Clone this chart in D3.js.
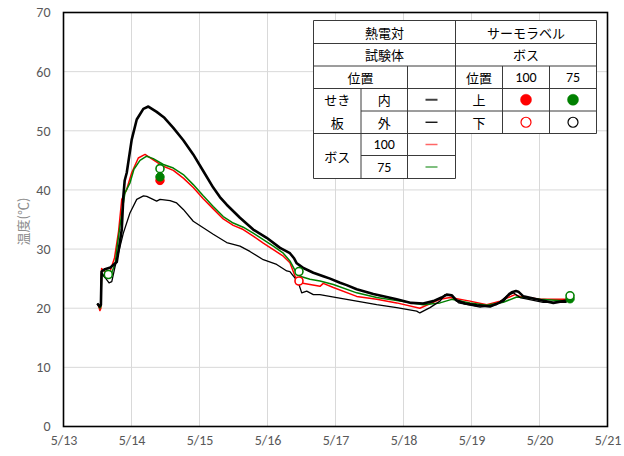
<!DOCTYPE html>
<html>
<head>
<meta charset="utf-8">
<script src="https://cdn.jsdelivr.net/npm/d3@7"></script>
<style>
  html, body { margin: 0; padding: 0; background: #fff; }
  svg { display: block; }
</style>
</head>
<body>
<svg id="chart" width="624" height="456"></svg>
<script>
// Temperature records, time in days of May (decimal), value in °C

// せき板 内 (thermocouple, inner side of the form board)
const formInner = [
  [13.497,20.8],[13.53,20.3],[13.55,20.6],[13.56,26.2],[13.61,26.6],[13.69,26.9],[13.74,27.4],
  [13.783,27.8],[13.82,30.5],[13.857,33.3],[13.88,38.9],[13.90,41.6],[13.93,42.9],[14.003,48.5],
  [14.077,51.9],[14.174,53.7],[14.248,54.1],[14.37,53.2],[14.484,52.2],[14.615,50.5],[14.762,48.4],
  [14.908,46.0],[15.055,43.2],[15.202,40.4],[15.30,38.8],[15.40,37.5],[15.595,35.3],[15.79,33.3],
  [15.988,31.9],[16.184,30.2],[16.33,29.3],[16.393,28.4],[16.43,27.6],[16.478,27.2],[16.527,26.8],
  [16.674,26.0],[16.82,25.4],[16.92,25.0],[17.067,24.3],[17.165,23.9],[17.312,23.2],[17.556,22.4],
  [17.90,21.5],[18.113,20.9],[18.29,20.8],[18.438,21.2],[18.56,21.8],[18.635,22.3],[18.709,22.2],
  [18.782,21.3],[18.907,20.8],[19.077,20.5],[19.273,20.3],[19.405,20.9],[19.468,21.3],[19.554,22.4],
  [19.592,22.7],[19.654,22.9],[19.689,22.8],[19.762,22.0],[20.008,21.4],[20.204,20.9],[20.40,21.3]
];

// せき板 外 (thermocouple, outer side of the form board)
const formOuter = [
  [13.497,20.8],[13.53,20.3],[13.55,20.6],[13.56,26.0],[13.61,25.2],[13.67,24.3],[13.71,24.5],
  [13.76,27.1],[13.88,32.7],[13.977,36.1],[14.077,38.4],[14.176,39.0],[14.224,38.9],[14.37,38.1],
  [14.42,38.4],[14.567,38.2],[14.664,37.8],[14.762,36.7],[14.908,34.7],[15.055,33.6],[15.202,32.5],
  [15.40,31.1],[15.595,30.5],[15.741,29.6],[15.938,28.2],[16.135,27.4],[16.283,26.3],[16.33,26.2],
  [16.405,25.1],[16.454,24.3],[16.503,22.6],[16.577,22.9],[16.674,22.3],[16.77,22.3],[17.018,21.8],
  [17.312,21.2],[17.606,20.6],[17.90,20.1],[18.194,19.5],[18.24,19.2],[18.39,20.1],[18.537,21.2],
  [18.61,22.3],[18.709,22.1],[18.81,20.9],[19.127,20.2],[19.367,20.6],[19.51,22.0],[19.615,22.6],
  [19.714,21.8],[20.053,21.0],[20.40,21.0]
];

// ボス 100 (thermocouple)
const boss100 = [
  [13.51,20.6],[13.535,19.6],[13.55,20.0],[13.56,26.7],[13.61,26.2],[13.69,26.4],[13.75,28.5],
  [13.81,33.0],[13.857,38.4],[13.93,40.1],[14.003,42.9],[14.10,45.4],[14.199,46.0],[14.32,45.1],
  [14.468,44.0],[14.615,43.3],[14.762,42.0],[14.908,40.4],[15.055,38.5],[15.202,36.8],[15.349,35.1],
  [15.496,34.0],[15.643,33.3],[15.79,32.2],[15.938,31.0],[16.085,29.9],[16.232,28.8],[16.33,27.7],
  [16.405,25.4],[16.478,24.3],[16.625,24.0],[16.772,23.7],[16.82,24.2],[16.968,23.5],[17.312,22.0],
  [17.606,21.5],[17.90,20.9],[18.24,20.0],[18.537,21.5],[18.684,21.8],[18.978,21.2],[19.224,20.6],
  [19.42,21.2],[19.64,22.3],[19.713,22.0],[20.008,21.5],[20.40,21.5]
];

// ボス 75 (thermocouple)
const boss75 = [
  [13.51,20.6],[13.535,20.0],[13.55,20.3],[13.56,25.8],[13.61,25.2],[13.69,25.5],[13.76,27.5],
  [13.79,30.5],[13.857,36.1],[13.904,39.5],[13.978,41.2],[14.036,43.5],[14.125,45.0],[14.223,45.7],
  [14.32,45.3],[14.468,44.3],[14.615,43.7],[14.762,42.6],[14.908,40.9],[15.055,39.0],[15.202,37.2],
  [15.349,35.5],[15.496,34.4],[15.643,33.7],[15.79,32.7],[15.938,31.6],[16.085,30.5],[16.232,29.3],
  [16.33,28.0],[16.405,26.4],[16.478,25.4],[16.625,24.9],[16.772,24.6],[16.968,24.0],[17.312,22.6],
  [17.606,21.8],[17.95,21.2],[18.29,20.6],[18.537,20.9],[18.709,21.5],[18.978,20.9],[19.224,20.5],
  [19.468,21.0],[19.665,21.9],[20.008,21.5],[20.40,21.2]
];

// Thermo-label readings (ボス): filled = 上, open = 下
const labelFilled = [
  { t: 14.419, v: 41.6, color: "#ff0000" },
  { t: 14.419, v: 42.2, color: "#008000" },
  { t: 20.449, v: 21.6, color: "#008000" }
];
const labelOpen = [
  { t: 13.659, v: 25.7, color: "#008000" },
  { t: 14.419, v: 43.6, color: "#008000" },
  { t: 16.463, v: 26.2, color: "#008000" },
  { t: 16.463, v: 24.6, color: "#ff0000" },
  { t: 20.449, v: 22.1, color: "#008000" }
];

// Axis ticks
const xTicks = [13, 14, 15, 16, 17, 18, 19, 20, 21];
const yTicks = [0, 10, 20, 30, 40, 50, 60, 70];
const yTitle = "温度(℃)";

const svg = d3.select("#chart");
const plot = { left: 63.5, right: 607.5, top: 12.5, bottom: 426.5 };

const x = d3.scaleLinear().domain([13, 21]).range([plot.left, plot.right]);
const y = d3.scaleLinear().domain([0, 70]).range([plot.bottom, plot.top]);

const numFont = "Carlito, Calibri, 'Liberation Sans', Arial, sans-serif";
const jpFont = "'Noto Sans CJK JP', 'Noto Sans', sans-serif";

// gridlines
const grid = svg.append("g");
grid.selectAll("line.h").data(yTicks).join("line")
  .attr("x1", plot.left).attr("x2", plot.right)
  .attr("y1", d => y(d)).attr("y2", d => y(d))
  .attr("stroke", "#d9d9d9").attr("stroke-width", 1);
grid.selectAll("line.v").data(xTicks).join("line")
  .attr("y1", plot.top).attr("y2", plot.bottom)
  .attr("x1", d => x(d)).attr("x2", d => x(d))
  .attr("stroke", "#d9d9d9").attr("stroke-width", 1);

// axes (labels only)
const yAxis = d3.axisLeft(y).tickValues(yTicks).tickSize(0).tickPadding(0);
const gy = svg.append("g").attr("transform", `translate(${plot.left - 13},0)`).call(yAxis);
gy.select(".domain").remove();
gy.selectAll("text").attr("fill", "#595959").attr("font-size", 14).attr("font-family", numFont);

const xAxis = d3.axisBottom(x).tickValues(xTicks).tickSize(0).tickPadding(0)
  .tickFormat(d => "5/" + d);
const gx = svg.append("g").attr("transform", `translate(0,${plot.bottom + 9})`).call(xAxis);
gx.select(".domain").remove();
gx.selectAll("text").attr("fill", "#595959").attr("font-size", 14).attr("font-family", numFont);

// y title
svg.append("text")
  .attr("transform", `translate(22,${(plot.top + plot.bottom) / 2 + 2}) rotate(-90)`)
  .attr("text-anchor", "middle").attr("dominant-baseline", "central")
  .attr("fill", "#8c8c8c").attr("font-size", 13).attr("font-family", jpFont)
  .text(yTitle);

// series lines
const line = d3.line().x(d => x(d[0])).y(d => y(d[1]));
const series = [
  { data: boss100, color: "#ff0000", width: 1.5 },
  { data: boss75, color: "#008000", width: 1.5 },
  { data: formOuter, color: "#000000", width: 1.3 },
  { data: formInner, color: "#000000", width: 2.6 }
];
svg.append("g").selectAll("path").data(series).join("path")
  .attr("d", d => line(d.data))
  .attr("fill", "none")
  .attr("stroke", d => d.color)
  .attr("stroke-width", d => d.width)
  .attr("stroke-linejoin", "round");

// thermo-label markers
svg.append("g").selectAll("circle").data(labelFilled).join("circle")
  .attr("cx", d => x(d.t)).attr("cy", d => y(d.v)).attr("r", 4.2)
  .attr("fill", d => d.color).attr("stroke", d => d.color).attr("stroke-width", 1);
svg.append("g").selectAll("circle").data(labelOpen).join("circle")
  .attr("cx", d => x(d.t)).attr("cy", d => y(d.v)).attr("r", 4)
  .attr("fill", "#fff").attr("stroke", d => d.color).attr("stroke-width", 1.6);

// plot frame
svg.append("rect")
  .attr("x", plot.left).attr("y", plot.top)
  .attr("width", plot.right - plot.left).attr("height", plot.bottom - plot.top)
  .attr("fill", "none").attr("stroke", "#000").attr("stroke-width", 1.6);

// ---- legend table ----
const colX = [313.5, 361, 407.5, 455.5, 502.5, 549.5, 596.5];
const rowY = [20.5, 43.5, 66, 88.5, 111, 133.5, 155.5, 178.5];
const tbl = svg.append("g");
const cx = (a, b) => (colX[a] + colX[b]) / 2;
const cy = (a, b) => (rowY[a] + rowY[b]) / 2;

// white backgrounds
tbl.append("rect").attr("x", colX[0]).attr("y", rowY[0])
  .attr("width", colX[3] - colX[0]).attr("height", rowY[7] - rowY[0]).attr("fill", "#fff");
tbl.append("rect").attr("x", colX[3]).attr("y", rowY[0])
  .attr("width", colX[6] - colX[3]).attr("height", rowY[5] - rowY[0]).attr("fill", "#fff");

// cell borders [x1, y1, x2, y2] in column/row indices
const borders = [
  // horizontals
  [0, 0, 6, 0], [0, 1, 6, 1], [0, 2, 6, 2], [0, 3, 6, 3], [1, 4, 6, 4], [0, 5, 6, 5],
  [1, 6, 3, 6], [0, 7, 3, 7],
  // verticals
  [0, 0, 0, 7], [3, 0, 3, 7], [6, 0, 6, 5], [2, 2, 2, 7], [1, 3, 1, 7], [4, 2, 4, 5], [5, 2, 5, 5]
];
tbl.selectAll("line").data(borders).join("line")
  .attr("x1", d => colX[d[0]]).attr("y1", d => rowY[d[1]])
  .attr("x2", d => colX[d[2]]).attr("y2", d => rowY[d[3]])
  .attr("stroke", "#3a3a3a").attr("stroke-width", 1);

const cells = [
  { t: "熱電対", x: cx(0, 3), y: cy(0, 1) },
  { t: "サーモラベル", x: cx(3, 6), y: cy(0, 1) },
  { t: "試験体", x: cx(0, 3), y: cy(1, 2) },
  { t: "ボス", x: cx(3, 6), y: cy(1, 2) },
  { t: "位置", x: cx(0, 2), y: cy(2, 3) },
  { t: "位置", x: cx(3, 4), y: cy(2, 3) },
  { t: "100", x: cx(4, 5), y: cy(2, 3), num: true },
  { t: "75", x: cx(5, 6), y: cy(2, 3), num: true },
  { t: "せき", x: cx(0, 1), y: cy(3, 4) },
  { t: "板", x: cx(0, 1), y: cy(4, 5) },
  { t: "内", x: cx(1, 2), y: cy(3, 4) },
  { t: "外", x: cx(1, 2), y: cy(4, 5) },
  { t: "上", x: cx(3, 4), y: cy(3, 4) },
  { t: "下", x: cx(3, 4), y: cy(4, 5) },
  { t: "ボス", x: cx(0, 1), y: cy(5, 7) },
  { t: "100", x: cx(1, 2), y: cy(5, 6), num: true },
  { t: "75", x: cx(1, 2), y: cy(6, 7), num: true }
];
tbl.selectAll("text").data(cells).join("text")
  .attr("x", d => d.x).attr("y", d => d.y)
  .attr("text-anchor", "middle").attr("dominant-baseline", "central")
  .attr("font-size", d => d.num ? 14 : 13)
  .attr("font-family", d => d.num ? numFont : jpFont)
  .attr("fill", "#000")
  .text(d => d.t);

// line swatches
const swatches = [
  { row: 3, color: "#404040", width: 2 },
  { row: 4, color: "#000000", width: 1.3 },
  { row: 5, color: "#ff6666", width: 1.5 },
  { row: 6, color: "#55aa55", width: 1.5 }
];
tbl.append("g").selectAll("line").data(swatches).join("line")
  .attr("x1", cx(2, 3) - 6).attr("x2", cx(2, 3) + 6)
  .attr("y1", d => cy(d.row, d.row + 1)).attr("y2", d => cy(d.row, d.row + 1))
  .attr("stroke", d => d.color).attr("stroke-width", d => d.width);

// marker swatches
const markerKeys = [
  { col: 4, row: 3, color: "#ff0000", filled: true },
  { col: 5, row: 3, color: "#008000", filled: true },
  { col: 4, row: 4, color: "#ff0000", filled: false },
  { col: 5, row: 4, color: "#000000", filled: false }
];
tbl.append("g").selectAll("circle").data(markerKeys).join("circle")
  .attr("cx", d => cx(d.col, d.col + 1)).attr("cy", d => cy(d.row, d.row + 1))
  .attr("r", d => d.filled ? 5.5 : 5)
  .attr("fill", d => d.filled ? d.color : "#fff")
  .attr("stroke", d => d.color).attr("stroke-width", d => d.filled ? 0.5 : 1.2);
</script>
</body>
</html>
